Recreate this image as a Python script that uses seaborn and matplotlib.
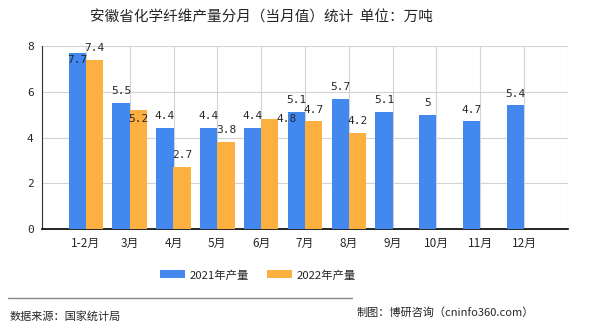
import matplotlib
matplotlib.use("Agg")
import matplotlib.pyplot as plt
import seaborn as sns
import pandas as pd
import numpy as np
from matplotlib.lines import Line2D
from matplotlib.patches import Patch

months = ["1-2月", "3月", "4月", "5月", "6月", "7月", "8月", "9月", "10月", "11月", "12月"]
y2021 = [7.7, 5.5, 4.4, 4.4, 4.4, 5.1, 5.7, 5.1, 5.0, 4.7, 5.4]
y2022 = [7.4, 5.2, 2.7, 3.8, 4.8, 4.7, 4.2, np.nan, np.nan, np.nan, np.nan]
labels2021 = ["7.7", "5.5", "4.4", "4.4", "4.4", "5.1", "5.7", "5.1", "5", "4.7", "5.4"]
labels2022 = ["7.4", "5.2", "2.7", "3.8", "4.8", "4.7", "4.2"]
series = ["2021年产量", "2022年产量"]
colors = ["#4388EE", "#FBB040"]
yticks = [0, 2, 4, 6, 8]

sns.set_style("white")
plt.rcParams['font.family'] = ['Noto Sans CJK SC', 'DejaVu Sans']

df = pd.DataFrame({
    "month": months * 2,
    "value": y2021 + y2022,
    "series": [series[0]] * len(months) + [series[1]] * len(months),
}).dropna()

fig = plt.figure(figsize=(5.9, 3.3), dpi=100)
ax = fig.add_axes([42 / 590, 1 - 229 / 330, 526 / 590, 183 / 330])

sns.barplot(data=df, x="month", y="value", hue="series", order=months,
            hue_order=series, palette=colors, width=0.79, saturation=1,
            ax=ax, legend=False, zorder=3, linewidth=0, edgecolor="none")

ax.set_xlim(-1, len(months))
ax.set_ylim(0, 8)
ax.set_xticks(range(-1, len(months) + 1))
ax.set_xticklabels([""] + months + [""], fontsize=8.5, family=['Noto Sans CJK SC', 'DejaVu Sans'])
ax.set_yticks(yticks)
ax.set_yticklabels([str(v) for v in yticks], fontsize=8, family='DejaVu Sans Mono')
ax.set_xlabel("")
ax.set_ylabel("")
ax.grid(True, color="#D3D3D3", linewidth=0.8, zorder=0)
ax.set_axisbelow(True)
for s in ["top", "right"]:
    ax.spines[s].set_visible(False)
ax.spines["left"].set_color("#333333")
ax.spines["left"].set_linewidth(0.8)
ax.spines["bottom"].set_color("#000000")
ax.spines["bottom"].set_linewidth(1.2)
ax.tick_params(axis="both", length=4, width=0.8, color="#333333", pad=2)

# value labels
bw = 0.79 / 2
for i, (v, lab) in enumerate(zip(y2021, labels2021)):
    x = i - bw / 2
    off = (0, -5) if i == 0 else (0, 8.6)
    ax.annotate(lab, (x, v), xytext=off, textcoords="offset points",
                ha="center", va="center", fontsize=8, family="DejaVu Sans Mono", zorder=5)
for i, (v, lab) in enumerate(zip(y2022, labels2022)):
    x = i + bw / 2
    if i == 1:
        off = (0, -6.5)
    elif i == 4:
        off = (12, 0.5)
    else:
        off = (0, 8.6)
    ax.annotate(lab, (x, v), xytext=off, textcoords="offset points",
                ha="center", va="center", fontsize=8, family="DejaVu Sans Mono", zorder=5)

fig.text(261 / 590, 1 - 18 / 330, "安徽省化学纤维产量分月（当月值）统计  单位：万吨",
         ha="center", va="center", fontsize=10.5)

handles = [Patch(facecolor=c, edgecolor="none") for c in colors]
fig.legend(handles, series, loc="center", bbox_to_anchor=(258 / 590, 1 - 275 / 330),
           ncol=2, frameon=False, fontsize=8.2, handlelength=2.2, handleheight=0.7,
           columnspacing=1.6, handletextpad=0.4)

fig.add_artist(Line2D([8 / 590, 352 / 590], [1 - 298 / 330, 1 - 298 / 330],
                      color="#888888", linewidth=1))
fig.text(10 / 590, 1 - 316 / 330, "数据来源：国家统计局", ha="left", va="center", fontsize=8)
fig.text(357 / 590, 1 - 313 / 330, "制图：博研咨询（cninfo360.com）", ha="left", va="center", fontsize=8)

fig.savefig("out.png", dpi=100)
